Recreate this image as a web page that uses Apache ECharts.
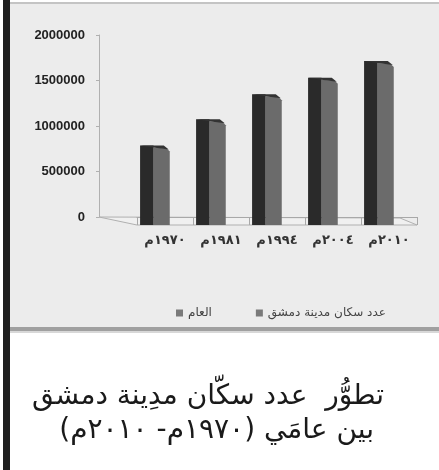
<!DOCTYPE html>
<html>
<head>
<meta charset="utf-8">
<script src="https://cdn.jsdelivr.net/npm/echarts@6/dist/echarts.min.js"></script>
<style>html,body{margin:0;padding:0;background:#fff;}#c{width:439px;height:470px;}</style>
</head>
<body>
<div id="c"></div>
<script>
const categories = ['١٩٧٠م', '١٩٨١م', '١٩٩٤م', '٢٠٠٤م', '٢٠١٠م'];
const population = [785000, 1075000, 1350000, 1530000, 1715000];
const seriesName = 'عدد سكان مدينة دمشق';
const yearName = 'العام';
const captionLine1 = 'تطوُّر  عدد سكّان مدِينة دمشق';
const captionLine2 = 'بين عامَي (١٩٧٠م- ٢٠١٠م)';

const chart = echarts.init(document.getElementById('c'), null, {renderer: 'canvas'});

function renderBar(params, api) {
  const p = api.coord([api.value(0), api.value(1)]);
  const b = api.coord([api.value(0), 0]);
  const band = api.size([1, 0])[0];
  const c = p[0] - band * 0.18;
  const wd = band * 0.24, wg = band * 0.29;
  const xL = c - (wd + wg) / 2, xM = xL + wd, xR = xM + wg;
  const yT = p[1], yB = b[1] + 8;
  return {
    type: 'group',
    children: [
      {type: 'polygon', shape: {points: [[xM, yT + 2], [xR - 3, yT + 3], [xR, yT + 6], [xR, yB], [xM, yB]]},
       style: {fill: '#6b6b6b'}},
      {type: 'rect', shape: {x: xL, y: yT, width: wd, height: yB - yT},
       style: {fill: '#2a2a2a'}},
      {type: 'polygon', shape: {points: [[xL, yT], [xR - 6, yT], [xR - 1, yT + 4], [xM, yT + 2]]},
       style: {fill: '#333333'}}
    ]
  };
}

chart.setOption({
  backgroundColor: '#ffffff',
  animation: false,
  graphic: [
    {type: 'rect', z: -10, shape: {x: 3, y: 0, width: 7, height: 470}, style: {fill: '#1f1f1f'}},
    {type: 'rect', z: -10, shape: {x: 10, y: 2, width: 429, height: 328}, style: {fill: '#ececec'}},
    {type: 'rect', z: -9, shape: {x: 10, y: 2, width: 429, height: 2}, style: {fill: '#c4c4c4'}},
    {type: 'rect', z: -9, shape: {x: 10, y: 327, width: 429, height: 4}, style: {fill: '#a0a0a0'}},
    {type: 'rect', z: -9, shape: {x: 10, y: 331, width: 429, height: 2}, style: {fill: '#d8d8d8'}},
    {type: 'polygon', z: -5, shape: {points: [[99, 217], [137, 225], [417, 225], [400, 218]]},
     style: {fill: '#f0f0f0', stroke: '#b0b0b0', lineWidth: 1}},
    {type: 'text', x: 384, y: 397, style: {text: captionLine1, font: '28px "DejaVu Sans"', fill: '#1a1a1a', align: 'right', verticalAlign: 'middle'}},
    {type: 'text', x: 374, y: 431, style: {text: captionLine2, font: '28px "DejaVu Sans"', fill: '#1a1a1a', align: 'right', verticalAlign: 'middle'}}
  ],
  grid: {left: 137, right: 22, top: 35, height: 182},
  legend: {
    data: [yearName, seriesName],
    left: 171, top: 302,
    icon: 'rect', itemWidth: 7, itemHeight: 7, itemGap: 44,
    textStyle: {fontFamily: 'DejaVu Sans', fontSize: 12, color: '#444'}
  },
  xAxis: {
    type: 'category',
    data: categories,
    offset: 8,
    axisLine: {lineStyle: {color: '#a8a8a8'}},
    axisTick: {show: true, length: 8, lineStyle: {color: '#a8a8a8'}},
    axisLabel: {margin: 9, fontFamily: 'DejaVu Sans', fontSize: 13, fontWeight: 'bold', color: '#333'}
  },
  yAxis: {
    type: 'value',
    min: 0, max: 2000000, interval: 500000,
    offset: 38,
    axisLine: {show: true, lineStyle: {color: '#b0b0b0'}},
    axisTick: {show: true, length: 3, lineStyle: {color: '#b0b0b0'}},
    splitLine: {show: false},
    axisLabel: {margin: 14, fontFamily: 'Liberation Sans', fontSize: 13, fontWeight: 'bold', color: '#222',
                formatter: v => String(v)}
  },
  series: [
    {name: yearName, type: 'custom', renderItem: renderBar, data: [], itemStyle: {color: '#7a7a7a', borderColor: '#444'}},
    {name: seriesName, type: 'custom', renderItem: renderBar,
     encode: {x: 0, y: 1},
     data: population.map((v, i) => [i, v]),
     itemStyle: {color: '#7a7a7a', borderColor: '#444'}}
  ]
});
</script>
</body>
</html>
